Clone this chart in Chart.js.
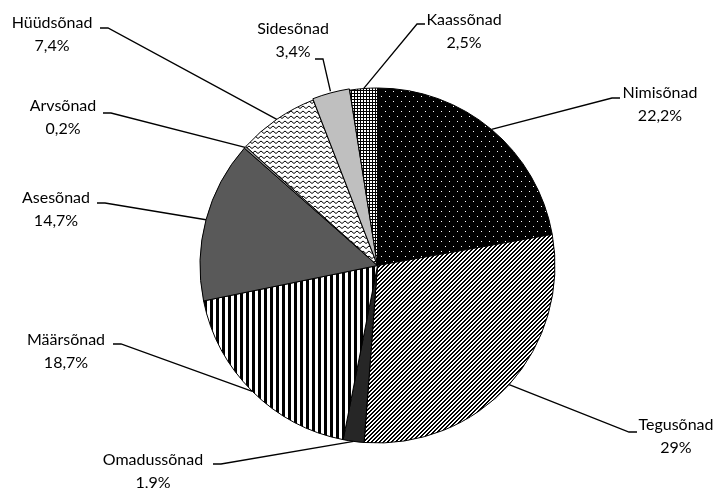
<!DOCTYPE html>
<html>
<head>
<meta charset="utf-8">
<script src="https://cdn.jsdelivr.net/npm/chart.js@4.4.1/dist/chart.umd.min.js"></script>
<style>
html,body{margin:0;padding:0;background:#fff;}
#wrap{width:717px;height:488px;}
</style>
</head>
<body>
<div id="wrap"><canvas id="c" width="717" height="488"></canvas></div>
<script>
// ---- data ----
const categories = ['Nimisõnad','Tegusõnad','Omadussõnad','Määrsõnad','Asesõnad','Arvsõnad','Hüüdsõnad','Sidesõnad','Kaassõnad'];
const shares = [22.2, 29, 1.9, 18.7, 14.7, 0.2, 7.4, 3.4, 2.5];

// ---- label layout (text block centre, first-line y, leader elbow) ----
const labelX   = [660, 676, 153, 66, 56, 63, 52, 293, 464];
const labelY   = [93, 425, 460, 340, 198, 106, 23, 29, 20];
const elbowX   = [620, 637, 213, 113, 97, 103, 100, 315, 425];
const elbowY   = [98, 432, 464, 344, 203, 113, 28, 59, 24];
const elbowDir = [-1, -1, 1, 1, 1, 1, 1, 1, -1];

function tile(w, h, draw) {
  const c = document.createElement('canvas');
  c.width = w; c.height = h;
  const g = c.getContext('2d');
  draw(g, w, h);
  return g.createPattern(c, 'repeat');
}
const ctx0 = document.getElementById('c').getContext('2d');
const patDots = tile(8, 10, (g, w, h) => {
  g.fillStyle = '#000'; g.fillRect(0, 0, w, h);
  g.fillStyle = '#fff'; g.fillRect(1, 1, 1, 1); g.fillRect(5, 6, 1, 1);
});
const patDiag = tile(4, 4, (g, w, h) => {
  g.fillStyle = '#fff'; g.fillRect(0, 0, w, h);
  g.fillStyle = '#000';
  for (let y = 0; y < h; y++) for (let x = 0; x < w; x++) {
    const m = (x + y) % 4;
    if (m === 0 || m === 1) g.fillRect(x, y, 1, 1);
  }
});
const patVert = tile(6, 2, (g, w, h) => {
  g.fillStyle = '#fff'; g.fillRect(0, 0, w, h);
  g.fillStyle = '#000'; g.fillRect(0, 0, 3, h);
});
const patZig = tile(6, 5, (g, w, h) => {
  g.fillStyle = '#fff'; g.fillRect(0, 0, w, h);
  g.strokeStyle = '#000'; g.lineWidth = 1;
  g.beginPath(); g.moveTo(0, 3.5); g.lineTo(3, 1); g.lineTo(6, 3.5); g.stroke();
});
const patGrid = tile(3, 3, (g, w, h) => {
  g.fillStyle = '#fff'; g.fillRect(0, 0, w, h);
  g.fillStyle = '#000'; g.fillRect(0, 0, w, 1); g.fillRect(0, 0, 1, h);
});

const fills = [patDots, patDiag, '#262626', patVert, '#595959', '#8c8c8c', patZig, '#bfbfbf', patGrid];
const offsets = [0, 0, 0, 0, 0, 0, 0, 3, 0];

const FONT = '16px Lato';

const leaderPlugin = {
  id: 'leaders',
  afterDatasetsDraw(chart) {
    const ctx = chart.ctx;
    const meta = chart.getDatasetMeta(0);
    ctx.save();
    ctx.font = FONT;
    ctx.fillStyle = '#000';
    ctx.textAlign = 'center';
    ctx.textBaseline = 'middle';
    meta.data.forEach((arc, i) => {
      const p = arc.getProps(['x', 'y', 'startAngle', 'endAngle', 'outerRadius']);
      const mid = (p.startAngle + p.endAngle) / 2;
      const r = p.outerRadius + (offsets[i] || 0);
      const ax = p.x + Math.cos(mid) * r;
      const ay = p.y + Math.sin(mid) * r;
      const ex = elbowX[i], ey = elbowY[i];
      ctx.strokeStyle = '#000';
      ctx.lineWidth = 1.3;
      ctx.beginPath();
      ctx.moveTo(ex, ey);
      ctx.lineTo(ex + 8 * elbowDir[i], ey);
      ctx.lineTo(ax, ay);
      ctx.stroke();
      const pct = String(shares[i]).replace('.', ',') + '%';
      ctx.fillText(categories[i], labelX[i], labelY[i]);
      ctx.fillText(pct, labelX[i], labelY[i] + 23);
    });
    ctx.restore();
  }
};

new Chart(ctx0, {
  type: 'pie',
  data: {
    labels: categories,
    datasets: [{
      data: shares,
      backgroundColor: fills,
      borderColor: '#000',
      borderWidth: 1,
      offset: offsets
    }]
  },
  options: {
    responsive: false,
    animation: false,
    layout: { padding: { left: 198, right: 160, top: 86, bottom: 43 } },
    plugins: { legend: { display: false }, tooltip: { enabled: false } }
  },
  plugins: [leaderPlugin]
});
</script>
</body>
</html>
